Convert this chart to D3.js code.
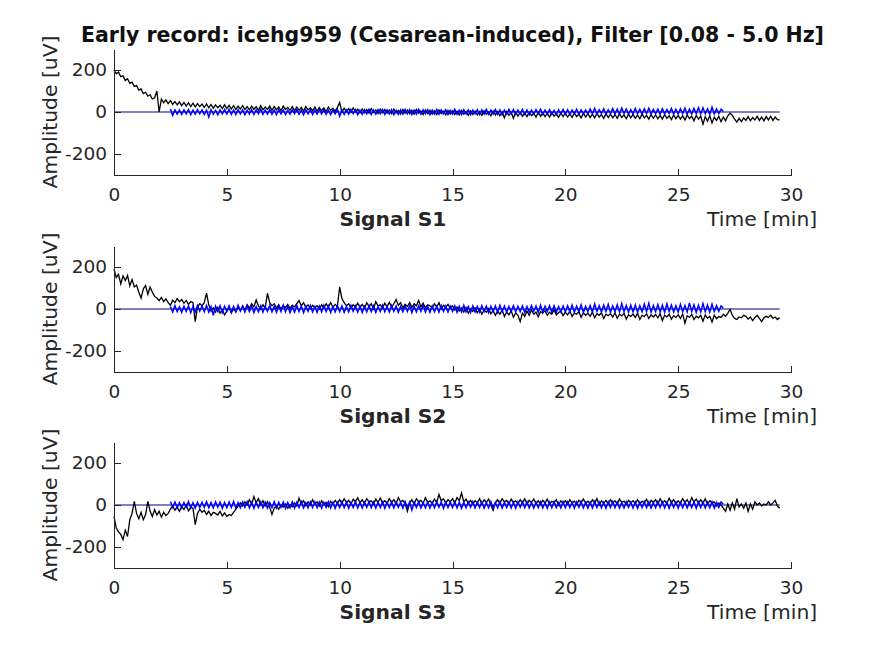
<!DOCTYPE html>
<html>
<head>
<meta charset="utf-8">
<script src="https://cdn.jsdelivr.net/npm/d3@7"></script>
<style>
  html, body { margin: 0; padding: 0; background: #fff; }
  svg { display: block; font-family: "DejaVu Sans", sans-serif; }
</style>
</head>
<body>
<div id="chart"></div>
<script>
// sampled traces, 0.1 min between samples
var step = 0.1;
var blackStart = 0;   // raw trace starts at 0 min
var blueStart = 2.5;  // filtered segment starts at 2.5 min
var zeroSpan = [0, 29.5];

var titleText = "Early record: icehg959 (Cesarean-induced), Filter [0.08 - 5.0 Hz]";
var signalNames = ["Signal S1", "Signal S2", "Signal S3"];
var xTicks = [0, 5, 10, 15, 20, 25, 30];
var yTicks = [-200, 0, 200];

var rawS1 = [
  200,182,190,168,172,150,158,136,142,122,
  126,104,110,88,94,76,82,62,68,100,
  0,62,44,58,40,54,36,50,34,48,
  30,46,28,44,26,42,24,40,26,38,
  22,38,20,36,18,34,20,32,16,34,
  16,32,14,30,12,28,14,30,12,26,
  10,28,12,26,8,30,10,24,12,28,
  8,26,10,24,6,28,12,22,8,26,
  6,24,8,22,4,26,10,20,6,24,
  4,22,6,20,2,24,8,18,4,22,
  45,0,18,2,16,-2,20,0,14,-4,
  14,-4,12,-6,16,-2,10,-8,14,-4,
  12,-6,10,-8,14,-4,8,-10,12,-6,
  10,-8,8,-10,12,-6,6,-12,10,-8,
  8,-10,6,-12,10,-8,4,-14,8,-10,
  6,-12,4,-14,8,-10,2,-16,6,-12,
  4,-14,2,-16,6,-12,0,-18,4,-14,
  2,-18,0,-28,2,-16,-2,-30,0,-20,
  -2,-20,-4,-22,0,-18,-6,-24,-2,-20,
  -4,-22,-6,-24,-2,-20,-8,-26,-4,-22,
  -6,-24,-8,-26,-4,-22,-10,-28,-6,-24,
  -8,-26,-10,-28,-6,-24,-12,-30,-8,-26,
  -10,-28,-12,-30,-8,-26,-14,-32,-10,-28,
  -12,-30,-14,-32,-10,-28,-16,-34,-12,-30,
  -14,-32,-16,-34,-12,-30,-18,-36,-14,-32,
  -16,-34,-18,-38,-14,-32,-20,-42,-16,-34,
  -20,-58,-22,-44,-18,-52,-24,-40,-20,-46,
  -24,-42,-18,-6,-16,-34,-48,-30,-46,-28,
  -40,-22,-42,-26,-38,-20,-40,-24,-42,-22,
  -38,-20,-40,-24,-36,-38
];

var rawS2 = [
  190,150,165,120,158,135,160,110,140,105,
  114,80,52,96,112,70,104,80,60,52,
  40,55,35,48,30,18,42,30,50,35,
  45,28,40,22,35,30,-60,10,25,15,
  30,76,20,-10,5,-15,8,-20,-5,-28,
  -10,5,-18,0,-12,10,-8,15,-5,20,
  5,25,10,43,15,0,20,5,75,30,
  15,25,5,20,0,15,8,22,3,18,
  10,25,40,15,30,8,20,2,18,5,
  15,0,20,5,25,10,30,8,22,12,
  105,50,30,15,25,5,20,10,28,8,
  22,5,30,12,25,0,35,15,20,5,
  28,10,32,8,25,45,18,30,5,22,
  12,30,8,25,15,40,10,28,5,20,
  15,5,25,10,30,0,18,8,22,5,
  15,-5,10,-10,5,-15,8,-20,0,-12,
  5,-18,0,-25,-5,-15,2,-22,-8,-30,
  -10,-25,-5,-35,-15,-28,-8,-40,-18,-30,
  -60,-20,-35,-10,-30,-5,-25,-15,-38,-12,
  -20,-8,-30,-15,-25,-5,-28,-18,-10,-32,
  -15,-28,-10,-35,-20,-25,-12,-40,-18,-30,
  -20,-35,-15,-42,-22,-30,-18,-45,-25,-32,
  -22,-38,-18,-44,-25,-33,-20,-48,-28,-35,
  -24,-40,-20,-50,-30,-36,-22,-45,-28,-38,
  -26,-42,-22,-55,-30,-38,-25,-48,-32,-40,
  -28,-45,-24,-67,-32,-40,-26,-50,-34,-42,
  -30,-58,-28,-44,-35,-62,-30,-46,-36,-40,
  -25,-35,-20,-2,-30,-45,-50,-38,-42,-30,
  -35,-48,-38,-55,-40,-30,-45,-60,-42,-35,
  -40,-30,-45,-38,-50,-40
];

var rawS3 = [
  -54,-110,-128,-140,-165,-120,-150,-70,-40,17,
  -40,-65,-35,-70,-45,17,-30,-55,-22,-48,
  -30,-58,-35,-50,-40,-20,-5,-25,-10,-30,
  -8,-22,0,-28,-12,-15,-94,-40,-20,-35,
  -25,-45,-30,-50,-35,-40,-48,-30,-52,-38,
  -55,-45,-50,-35,-20,-5,10,-5,15,0,
  25,5,40,10,30,0,20,-5,15,-10,
  -45,-15,-5,-20,0,-10,5,-15,0,-8,
  10,-5,33,5,20,-3,15,0,25,5,
  15,-5,20,0,12,-8,18,3,22,8,
  25,10,30,12,22,5,28,15,35,10,
  25,8,30,15,20,5,28,12,33,10,
  20,8,30,12,25,5,35,15,22,8,
  -30,10,25,5,30,15,22,8,35,12,
  20,8,28,12,50,20,30,10,25,15,
  30,10,35,20,57,15,28,8,22,5,
  20,10,30,5,25,12,28,0,-25,10,
  25,8,30,15,22,5,28,12,20,8,
  25,10,30,5,22,12,28,8,20,3,
  22,10,28,5,18,12,25,0,20,8,
  20,5,25,10,18,3,22,12,28,8,
  18,5,25,10,30,0,20,8,22,5,
  25,10,20,5,28,12,18,3,22,10,
  20,8,25,5,18,10,28,0,22,12,
  25,5,30,10,20,8,32,12,25,5,
  20,8,30,12,25,5,35,15,28,10,
  25,8,30,5,20,10,15,-5,10,0,
  -15,-30,5,-25,10,-20,30,-10,5,-15,
  10,-30,5,-20,15,0,10,-5,5,0,
  15,0,10,22,-5,-15
];

var filtS1 = [
  14,-16,10,-10,9,
  -11,10,-9,12,-13,9,-10,11,-8,10,
  -12,9,-24,11,-10,8,-13,10,-9,12,
  -10,13,-11,9,-12,11,-9,10,-13,8,
  -9,11,-12,10,-8,13,-11,9,-10,12,
  -11,9,-13,11,-9,10,-12,8,-10,11,
  -8,12,-11,9,-13,10,-9,11,-12,9,
  -10,13,-9,11,-11,8,-12,10,-9,12,
  -20,10,-11,9,-10,12,-8,11,-13,9,
  -11,10,-9,13,-12,9,-10,11,-8,12,
  -12,10,-9,11,-13,8,-11,10,-10,12,
  -9,11,-12,9,-10,13,-11,10,-8,11,
  -13,9,-10,12,-11,10,-9,11,-12,8,
  -10,13,-11,9,-12,11,-9,10,-13,9,
  -8,11,-12,10,-10,13,-11,9,-9,12,
  -11,10,-13,9,-10,12,-8,11,-12,9,
  -9,12,-11,10,-13,9,-10,11,-8,13,
  -12,9,-10,11,-11,8,-13,10,-9,12,
  -10,11,-12,9,-8,13,-11,10,-10,9,
  -9,14,-8,17,-10,11,-7,15,-11,10,
  -8,16,-9,13,-10,19,-7,14,-11,11,
  -9,17,-8,13,-10,15,-7,18,-9,12,
  -8,14,-11,16,-9,12,-7,17,-10,13,
  -9,15,-8,19,-11,14,-9,17,-7,21,
  -10,20,-8,15,-11,23,-9,14,-8,13,
  3
];

var filtS2 = [
  12,-14,16,-12,10,
  -16,13,-11,15,-18,12,-14,16,-10,14,
  -13,17,-15,11,-30,14,-12,16,-17,13,
  -11,15,-16,12,-14,18,-10,13,-15,16,
  -12,14,-17,11,-13,16,-15,12,-11,17,
  -14,13,-16,15,-12,19,-13,14,-17,11,
  -15,16,-12,14,-18,13,-11,17,-14,12,
  -16,14,-13,18,-12,15,-17,11,-14,16,
  -13,15,-16,12,-14,17,-11,14,-15,13,
  -17,12,-14,16,-13,15,-16,11,-12,18,
  -14,13,-15,17,-11,14,-16,12,-13,15,
  -12,16,-17,13,-14,15,-11,18,-15,12,
  -16,14,-13,12,-15,17,-12,14,-14,13,
  -11,15,-16,13,-14,18,-13,12,-17,14,
  -14,12,-15,16,-12,14,-18,13,-11,15,
  -16,17,-13,14,-15,12,-12,16,-14,13,
  -13,15,-17,12,-14,16,-11,14,-16,18,
  -15,13,-12,16,-14,15,-17,12,-13,14,
  -14,16,-13,18,-15,14,-12,20,-16,13,
  -13,17,-15,24,-12,16,-14,19,-11,22,
  -16,15,-13,20,-14,26,-12,17,-15,18,
  -14,19,-16,16,-13,23,-12,28,-15,17,
  -13,21,-14,18,-16,25,-12,19,-14,16,
  -15,22,-13,17,-14,29,-12,20,-16,18,
  -14,26,-13,19,-15,23,-12,16,-11,14,
  5
];

var filtS3 = [
  16,-12,14,-13,11,
  -14,12,-10,16,-13,11,-15,13,-12,14,
  -11,16,-13,12,-14,15,-10,13,-16,12,
  -13,14,-12,17,-15,11,-13,14,-11,16,
  -14,12,-16,13,-12,15,-13,14,-15,11,
  -12,16,-14,13,-11,14,-16,12,-13,15,
  -15,13,-12,16,-14,11,-13,15,-12,14,
  -13,14,-15,12,-11,16,-14,13,-16,12,
  -12,15,-13,14,-16,11,-12,17,-14,13,
  -14,12,-11,16,-13,14,-15,13,-12,15,
  -16,13,-12,14,-14,15,-11,12,-15,16,
  -13,14,-24,13,-12,16,-14,11,-13,15,
  -15,12,-13,16,-11,14,-16,13,-12,14,
  -12,15,-14,13,-16,12,-13,14,-11,16,
  -14,13,-12,15,-15,11,-13,16,-14,12,
  -13,16,-15,12,-12,14,-14,13,-16,15,
  -11,14,-13,16,-14,12,-15,13,-12,15,
  -14,12,-16,14,-13,15,-12,11,-14,16,
  -13,15,-12,13,-15,14,-11,16,-14,12,
  -15,13,-14,16,-12,14,-13,12,-16,15,
  -12,16,-13,14,-15,12,-14,15,-11,13,
  -14,14,-16,13,-12,16,-13,15,-15,12,
  -13,16,-12,14,-14,13,-16,15,-12,14,
  -15,13,-13,16,-14,12,-12,15,-16,14,
  -12,15,-14,13,-13,16,-15,12,-11,14,
  4
];

var rawSignals = [rawS1, rawS2, rawS3];
var filtSignals = [filtS1, filtS2, filtS3];

var width = 875, height = 656;
var left = 114, right = 791, plotH = 126;
var tops = [49, 246, 442];
var ink = "#262626";

var svg = d3.select("#chart").append("svg")
  .attr("width", width)
  .attr("height", height);

var x = d3.scaleLinear().domain([0, 30]).range([left, right]);
var y = d3.scaleLinear().domain([-300, 300]).range([plotH, 0]);

function toPoints(vals, t0) {
  return vals.map(function(v, i) { return [t0 + i * step, v]; });
}

var line = d3.line()
  .x(function(d) { return x(d[0]); })
  .y(function(d) { return y(d[1]); });

svg.append("text")
  .attr("x", (left + right) / 2)
  .attr("y", 42)
  .attr("text-anchor", "middle")
  .attr("font-size", "20.5px")
  .attr("font-weight", "bold")
  .attr("fill", "#111")
  .text(titleText);

tops.forEach(function(top, k) {
  var g = svg.append("g").attr("transform", "translate(0," + top + ")");

  // zero reference, raw trace, filtered trace
  g.append("path")
    .datum(zeroSpan.map(function(t) { return [t, 0]; }))
    .attr("d", line)
    .attr("fill", "none")
    .attr("stroke", "#00008b")
    .attr("stroke-width", 1.1);

  g.append("path")
    .datum(toPoints(rawSignals[k], blackStart))
    .attr("d", line)
    .attr("fill", "none")
    .attr("stroke", "#000")
    .attr("stroke-width", 1.3);

  g.append("path")
    .datum(toPoints(filtSignals[k], blueStart))
    .attr("d", line)
    .attr("fill", "none")
    .attr("stroke", "#0000ff")
    .attr("stroke-width", 1.5);

  var ya = g.append("g")
    .attr("transform", "translate(" + left + ",0)")
    .call(d3.axisLeft(y).tickValues(yTicks)
      .tickFormat(function(d) { return String(d); })
      .tickSizeInner(-6.5).tickSizeOuter(0).tickPadding(7));

  var xa = g.append("g")
    .attr("transform", "translate(0," + plotH + ")")
    .call(d3.axisBottom(x).tickValues(xTicks)
      .tickFormat(function(d) { return String(d); })
      .tickSizeInner(-6.5).tickSizeOuter(0).tickPadding(13));

  [ya, xa].forEach(function(a) {
    a.select(".domain").attr("stroke", ink).attr("shape-rendering", "crispEdges");
    a.selectAll(".tick line").attr("stroke", ink).attr("shape-rendering", "crispEdges");
    a.selectAll(".tick text")
      .attr("fill", ink)
      .attr("font-size", "18.5px")
      .attr("font-family", "DejaVu Sans");
  });

  g.append("text")
    .attr("transform", "translate(57," + (plotH / 2) + ") rotate(-90)")
    .attr("text-anchor", "middle")
    .attr("font-size", "20.3px")
    .attr("fill", ink)
    .text("Amplitude [uV]");

  g.append("text")
    .attr("x", 393)
    .attr("y", plotH + 51)
    .attr("text-anchor", "middle")
    .attr("font-size", "20.3px")
    .attr("font-weight", "bold")
    .attr("fill", ink)
    .text(signalNames[k]);

  g.append("text")
    .attr("x", 707)
    .attr("y", plotH + 51)
    .attr("font-size", "20.3px")
    .attr("fill", ink)
    .text("Time [min]");
});
</script>
</body>
</html>
